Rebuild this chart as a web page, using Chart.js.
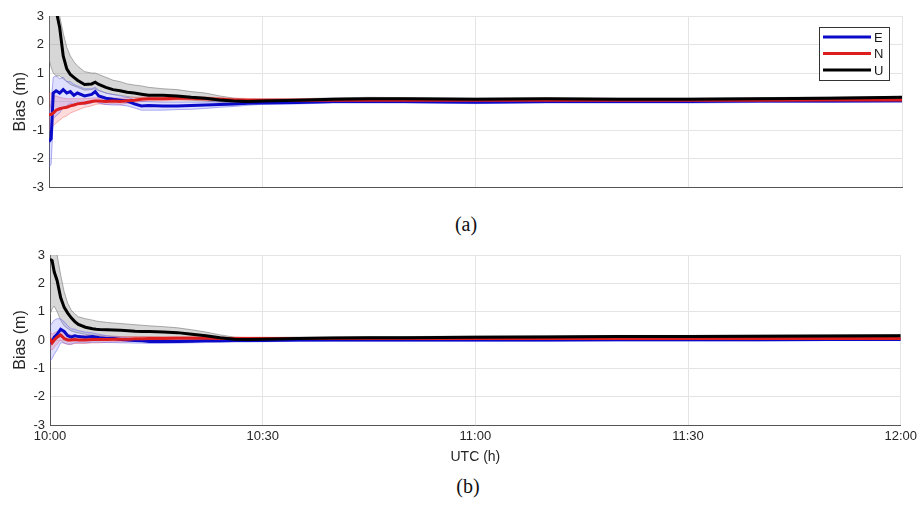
<!DOCTYPE html>
<html>
<head>
<meta charset="utf-8">
<script src="https://cdn.jsdelivr.net/npm/chart.js@4"></script>
<style>
  body { margin: 0; background: #fff; }
  #wrap { position: relative; width: 921px; height: 505px; background: #fff; overflow: hidden; }
  canvas { position: absolute; left: 0; }
  .cap { position: absolute; font-family: "Liberation Serif", serif; font-size: 20px; color: #111; transform: translateX(-50%); }
</style>
</head>
<body>
<div id="wrap">
  <canvas id="chartA" width="921" height="200" style="top:0"></canvas>
  <div class="cap" style="left:466px; top:213px">(a)</div>
  <canvas id="chartB" width="921" height="230" style="top:240px"></canvas>
  <div class="cap" style="left:468px; top:475px">(b)</div>
</div>
<script>
// time in minutes after 10:00 UTC
minutes = [0, 0.3, 0.6, 1, 1.5, 2, 2.5, 3, 3.5, 4, 5, 6, 6.5, 7, 8, 9, 10, 11, 12, 13, 14, 16, 18, 20, 22, 24, 26, 28, 30, 35, 40, 45, 50, 60, 70, 80, 90, 100, 110, 120];
xTicks = ['10:00', '10:30', '11:00', '11:30', '12:00'];
yTicks = [-3, -2, -1, 0, 1, 2, 3];

// (a)
E_a    = [-1.4, -1.3, 0.3, 0.38, 0.3, 0.42, 0.3, 0.35, 0.22, 0.3, 0.2, 0.25, 0.35, 0.2, 0.12, 0.08, 0.05, 0.02, -0.08, -0.15, -0.14, -0.15, -0.15, -0.14, -0.12, -0.1, -0.08, -0.06, -0.05, -0.03, 0.0, 0.0, 0.0, -0.02, 0.0, 0.0, 0.0, 0.02, 0.02, 0.03];
E_a_hi = [-0.5, 0.0, 0.85, 0.9, 0.8, 0.85, 0.7, 0.7, 0.6, 0.55, 0.45, 0.45, 0.5, 0.4, 0.3, 0.25, 0.2, 0.15, 0.08, 0.0, 0.0, -0.02, -0.02, -0.02, -0.02, 0.0, 0.02, 0.03, 0.03, 0.04, 0.05, 0.05, 0.05, 0.03, 0.05, 0.05, 0.05, 0.07, 0.07, 0.08];
E_a_lo = [-2.3, -2.2, -0.6, -0.5, -0.4, -0.2, -0.15, -0.05, -0.1, -0.05, -0.1, -0.05, 0.05, -0.05, -0.1, -0.12, -0.12, -0.15, -0.22, -0.3, -0.3, -0.3, -0.28, -0.27, -0.24, -0.2, -0.17, -0.13, -0.1, -0.08, -0.05, -0.05, -0.05, -0.07, -0.05, -0.05, -0.05, -0.03, -0.03, -0.02];
N_a    = [-0.45, -0.45, -0.4, -0.3, -0.25, -0.22, -0.2, -0.15, -0.12, -0.08, -0.05, 0.0, 0.02, 0.02, 0.0, 0.02, 0.0, 0.03, 0.05, 0.08, 0.1, 0.1, 0.12, 0.12, 0.1, 0.08, 0.06, 0.05, 0.05, 0.05, 0.05, 0.05, 0.05, 0.05, 0.05, 0.05, 0.05, 0.05, 0.06, 0.06];
N_a_hi = [0.3, 0.3, 0.2, 0.2, 0.15, 0.12, 0.1, 0.1, 0.1, 0.1, 0.1, 0.12, 0.13, 0.13, 0.12, 0.13, 0.12, 0.14, 0.15, 0.16, 0.17, 0.17, 0.18, 0.18, 0.16, 0.14, 0.12, 0.11, 0.1, 0.1, 0.1, 0.09, 0.09, 0.09, 0.09, 0.09, 0.09, 0.09, 0.1, 0.1];
N_a_lo = [-1.0, -0.95, -0.85, -0.75, -0.65, -0.55, -0.5, -0.4, -0.35, -0.3, -0.2, -0.15, -0.1, -0.08, -0.1, -0.08, -0.1, -0.06, -0.03, 0.0, 0.03, 0.03, 0.05, 0.05, 0.04, 0.02, 0.0, 0.0, 0.0, 0.01, 0.01, 0.01, 0.01, 0.01, 0.01, 0.01, 0.01, 0.01, 0.02, 0.02];
U_a    = [3.8, 3.6, 3.35, 3.2, 2.6, 1.6, 1.15, 0.95, 0.85, 0.75, 0.6, 0.62, 0.68, 0.6, 0.5, 0.42, 0.38, 0.33, 0.3, 0.26, 0.22, 0.22, 0.2, 0.15, 0.12, 0.06, 0.02, 0.0, 0.02, 0.05, 0.08, 0.1, 0.1, 0.08, 0.1, 0.08, 0.08, 0.1, 0.12, 0.15];
U_a_hi = [5, 4.5, 4, 3.6, 3.0, 2.4, 1.9, 1.6, 1.4, 1.25, 1.05, 1.0, 1.0, 0.95, 0.85, 0.75, 0.7, 0.62, 0.58, 0.55, 0.5, 0.45, 0.42, 0.35, 0.3, 0.2, 0.12, 0.08, 0.08, 0.1, 0.13, 0.15, 0.14, 0.12, 0.13, 0.12, 0.12, 0.14, 0.16, 0.18];
U_a_lo = [1.5, 1.2, 1.0, 0.9, 0.9, 0.8, 0.7, 0.6, 0.55, 0.5, 0.4, 0.42, 0.45, 0.38, 0.3, 0.25, 0.22, 0.18, 0.15, 0.12, 0.1, 0.1, 0.08, 0.05, 0.02, -0.02, -0.05, -0.06, -0.03, 0.0, 0.03, 0.05, 0.06, 0.04, 0.06, 0.05, 0.05, 0.07, 0.09, 0.11];

// (b)
E_b    = [-0.1, -0.05, 0.1, 0.2, 0.38, 0.3, 0.15, 0.1, 0.15, 0.12, 0.1, 0.12, 0.1, 0.08, 0.05, 0.05, 0.02, 0.0, -0.02, -0.03, -0.05, -0.05, -0.05, -0.04, -0.03, -0.03, -0.02, -0.02, -0.02, 0.0, 0.0, 0.0, 0.0, 0.0, 0.0, 0.01, 0.01, 0.01, 0.02, 0.02];
E_b_hi = [0.5, 0.6, 0.7, 0.75, 0.75, 0.65, 0.5, 0.4, 0.38, 0.33, 0.28, 0.25, 0.22, 0.2, 0.15, 0.12, 0.1, 0.08, 0.05, 0.04, 0.03, 0.03, 0.03, 0.03, 0.03, 0.03, 0.03, 0.03, 0.03, 0.04, 0.04, 0.04, 0.04, 0.04, 0.04, 0.05, 0.05, 0.05, 0.05, 0.05];
E_b_lo = [-0.75, -0.65, -0.5, -0.35, -0.1, -0.1, -0.15, -0.15, -0.1, -0.1, -0.1, -0.08, -0.08, -0.08, -0.09, -0.09, -0.1, -0.1, -0.11, -0.11, -0.12, -0.12, -0.11, -0.1, -0.09, -0.08, -0.07, -0.07, -0.06, -0.05, -0.04, -0.04, -0.04, -0.04, -0.04, -0.03, -0.03, -0.03, -0.02, -0.02];
N_b    = [0.05, -0.1, 0.0, 0.1, 0.18, 0.05, 0.0, 0.0, 0.02, 0.0, 0.0, 0.02, 0.02, 0.02, 0.02, 0.03, 0.03, 0.03, 0.04, 0.04, 0.05, 0.05, 0.06, 0.06, 0.06, 0.05, 0.05, 0.05, 0.05, 0.05, 0.05, 0.05, 0.05, 0.05, 0.05, 0.05, 0.05, 0.05, 0.05, 0.05];
N_b_hi = [0.3, 0.2, 0.25, 0.3, 0.35, 0.25, 0.2, 0.18, 0.18, 0.16, 0.15, 0.15, 0.14, 0.14, 0.13, 0.13, 0.12, 0.12, 0.12, 0.12, 0.12, 0.12, 0.12, 0.12, 0.11, 0.1, 0.1, 0.1, 0.1, 0.09, 0.09, 0.09, 0.09, 0.09, 0.09, 0.09, 0.09, 0.09, 0.09, 0.09];
N_b_lo = [-0.3, -0.35, -0.25, -0.15, 0.0, -0.12, -0.15, -0.15, -0.12, -0.12, -0.12, -0.1, -0.1, -0.1, -0.08, -0.07, -0.06, -0.06, -0.05, -0.04, -0.03, -0.03, -0.02, -0.02, -0.01, -0.01, 0.0, 0.0, 0.0, 0.01, 0.01, 0.01, 0.01, 0.01, 0.01, 0.01, 0.01, 0.01, 0.01, 0.01];
U_b    = [2.85, 2.8, 2.4, 2.1, 1.5, 1.15, 0.95, 0.78, 0.65, 0.55, 0.45, 0.4, 0.38, 0.37, 0.36, 0.35, 0.34, 0.33, 0.31, 0.3, 0.3, 0.28, 0.26, 0.2, 0.15, 0.08, 0.03, 0.02, 0.03, 0.05, 0.07, 0.08, 0.08, 0.1, 0.11, 0.12, 0.12, 0.13, 0.14, 0.15];
U_b_hi = [3.5, 3.4, 3.2, 3.0, 2.3, 1.7, 1.3, 1.05, 0.92, 0.82, 0.75, 0.7, 0.67, 0.65, 0.62, 0.6, 0.58, 0.56, 0.54, 0.52, 0.5, 0.47, 0.43, 0.36, 0.28, 0.18, 0.1, 0.08, 0.08, 0.1, 0.11, 0.12, 0.12, 0.14, 0.15, 0.16, 0.16, 0.17, 0.18, 0.19];
U_b_lo = [0.9, 1.1, 1.2, 1.0, 0.7, 0.5, 0.4, 0.32, 0.28, 0.25, 0.2, 0.17, 0.16, 0.15, 0.14, 0.13, 0.12, 0.12, 0.12, 0.12, 0.12, 0.1, 0.09, 0.05, 0.02, -0.02, -0.03, -0.03, -0.02, 0.0, 0.02, 0.03, 0.04, 0.06, 0.07, 0.08, 0.08, 0.09, 0.1, 0.11];

labels = ['E', 'N', 'U'];
lineColors = ['#0a0ac8', '#dc1e1e', '#000000'];
bandFill = ['rgba(110,110,255,0.22)', 'rgba(255,110,110,0.25)', 'rgba(140,140,140,0.35)'];
bandEdge = ['rgba(110,110,230,0.55)', 'rgba(240,120,120,0.55)', 'rgba(120,120,120,0.6)'];

function pts(arr) {
  return arr.map(function(v, i) { return {x: minutes[i], y: v}; });
}

function buildSets(series, bands) {
  var sets = [];
  for (var k = 0; k < 3; k++) {
    sets.push({ label: labels[k] + '_hi', data: pts(bands[k][0]), borderColor: bandEdge[k], borderWidth: 1,
      backgroundColor: bandFill[k], fill: '+1', pointRadius: 0, order: 10 });
    sets.push({ label: labels[k] + '_lo', data: pts(bands[k][1]), borderColor: bandEdge[k], borderWidth: 1,
      fill: false, pointRadius: 0, order: 10 });
  }
  for (var k = 0; k < 3; k++) {
    sets.push({ label: labels[k], data: pts(series[k]), borderColor: lineColors[k], borderWidth: 3,
      fill: false, pointRadius: 0, order: 3 - k });
  }
  return sets;
}

// small boxed legend top-right, like MATLAB
var boxLegend = {
  id: 'boxLegend',
  afterDraw: function(chart) {
    var c = chart.ctx;
    c.save();
    c.fillStyle = '#fff';
    c.fillRect(819.5, 27.5, 70, 53);
    c.strokeStyle = '#333';
    c.lineWidth = 1;
    c.strokeRect(819.5, 27.5, 70, 53);
    c.font = '13px "Liberation Sans", Arial, sans-serif';
    c.textBaseline = 'middle';
    for (var k = 0; k < 3; k++) {
      var y = 37 + k * 16.5;
      c.strokeStyle = lineColors[k];
      c.lineWidth = 3;
      c.beginPath();
      c.moveTo(823, y);
      c.lineTo(871, y);
      c.stroke();
      c.fillStyle = '#1a1a1a';
      c.fillText(labels[k], 874, y + 1);
    }
    c.restore();
  }
};

var tickFont = { family: '"Liberation Sans", Arial, sans-serif', size: 13 };

function makeOptions(showX, yWidth) {
  return {
    responsive: false,
    animation: false,
    events: [],
    layout: { padding: showX ? { top: 15, right: 19, bottom: 0, left: 0 } : { top: 16, right: 19, bottom: 11, left: 0 } },
    plugins: { legend: { display: false }, tooltip: { enabled: false } },
    scales: {
      x: {
        type: 'linear', min: 0, max: 120,
        grid: { color: '#e4e4e4', drawTicks: false },
        border: { color: '#555', width: 1 },
        ticks: {
          display: showX, stepSize: 30, maxRotation: 0, autoSkip: false, padding: 4,
          color: '#262626', font: tickFont,
          callback: function(v) { return xTicks[Math.round(v / 30)]; }
        },
        title: { display: showX, text: 'UTC (h)', color: '#262626',
          font: { family: '"Liberation Sans", Arial, sans-serif', size: 14 }, padding: { top: 0, bottom: 4 } },
        afterFit: function(s) { s.height = showX ? 45 : 0; }
      },
      y: {
        min: -3, max: 3,
        grid: { color: '#e4e4e4', drawTicks: false },
        border: { color: '#555', width: 1 },
        ticks: { stepSize: 1, padding: 5, color: '#262626', font: tickFont,
          callback: function(v) { return yTicks.indexOf(v) >= 0 ? v : ''; } },
        title: { display: true, text: 'Bias (m)', color: '#262626',
          font: { family: '"Liberation Sans", Arial, sans-serif', size: 16 }, padding: { top: 11, bottom: 0 } },
        afterFit: function(s) { s.width = yWidth; }
      }
    }
  };
}

new Chart(document.getElementById('chartA').getContext('2d'), {
  type: 'line',
  data: { datasets: buildSets([E_a, N_a, U_a], [[E_a_hi, E_a_lo], [N_a_hi, N_a_lo], [U_a_hi, U_a_lo]]) },
  options: makeOptions(false, 49),
  plugins: [boxLegend]
});

new Chart(document.getElementById('chartB').getContext('2d'), {
  type: 'line',
  data: { datasets: buildSets([E_b, N_b, U_b], [[E_b_hi, E_b_lo], [N_b_hi, N_b_lo], [U_b_hi, U_b_lo]]) },
  options: makeOptions(true, 50)
});
</script>
</body>
</html>
